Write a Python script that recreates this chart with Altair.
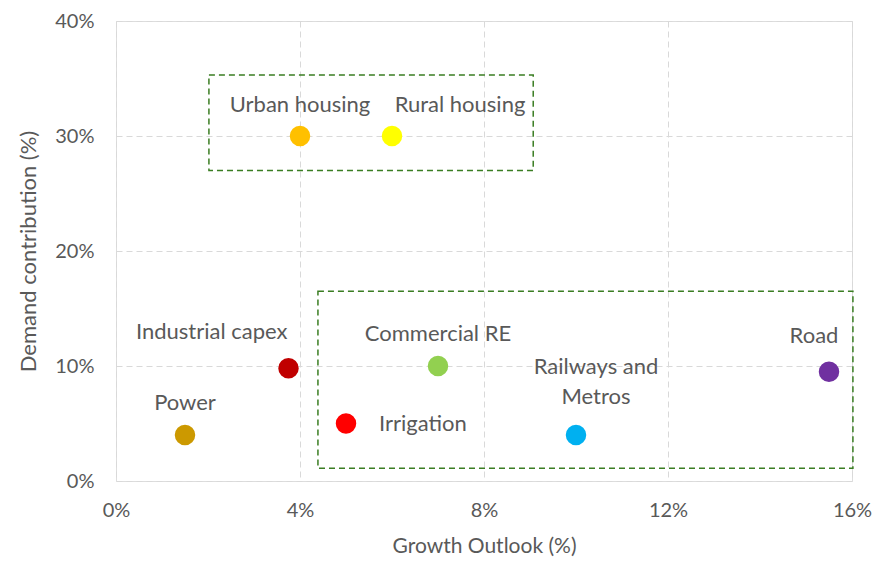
import altair as alt
import pandas as pd

# Data
names = ["Power", "Industrial capex", "Urban housing", "Rural housing",
         "Irrigation", "Commercial RE", "Railways and Metros", "Road"]
growth = [0.015, 0.0375, 0.04, 0.06, 0.05, 0.07, 0.10, 0.155]
demand = [0.04, 0.098, 0.30, 0.30, 0.05, 0.10, 0.04, 0.095]
colors = ["#CC9900", "#C00000", "#FFC000", "#FFFF00",
          "#FF0000", "#92D050", "#00B0F0", "#7030A0"]

# Highlight boxes (data coordinates)
box_x1 = [0.0202, 0.0439]
box_x2 = [0.0907, 0.1602]
box_y1 = [0.270, 0.011]
box_y2 = [0.353, 0.165]

x_ticks = [0, 0.04, 0.08, 0.12, 0.16]
y_ticks = [0, 0.1, 0.2, 0.3, 0.4]

FONT = "Lato"
GRAY = "#595959"

df = pd.DataFrame({"name": names, "growth": growth, "demand": demand, "color": colors})
boxes = pd.DataFrame({"x1": box_x1, "x2": box_x2, "y1": box_y1, "y2": box_y2})

xs = alt.Scale(domain=[0, 0.16], nice=False)
ys = alt.Scale(domain=[0, 0.4], nice=False)

x_axis = alt.Axis(values=x_ticks, format=".0%", title="Growth Outlook (%)",
                  grid=True, gridDash=[6, 4], gridColor="#D9D9D9",
                  domain=False, ticks=False, labelPadding=19, labelFlush=False,
                  labelFontSize=20, labelColor=GRAY, labelFont=FONT,
                  titleFontSize=21, titleColor=GRAY, titleFont=FONT,
                  titleFontWeight="normal", titlePadding=15)
y_axis = alt.Axis(values=y_ticks, format=".0%", title="Demand contribution (%)",
                  grid=True, gridDash=[6, 4], gridColor="#D9D9D9",
                  domain=False, ticks=False, labelPadding=22, labelFlush=False,
                  labelFontSize=20, labelColor=GRAY, labelFont=FONT,
                  titleFontSize=22, titleColor=GRAY, titleFont=FONT,
                  titleFontWeight="normal", titlePadding=14)

base = alt.Chart(df)

points = base.mark_circle(size=420, opacity=1).encode(
    x=alt.X("growth:Q", scale=xs, axis=x_axis),
    y=alt.Y("demand:Q", scale=ys, axis=y_axis),
    color=alt.Color("color:N", scale=None),
)

rects = alt.Chart(boxes).mark_rect(fill=None, stroke="#3A7D22", strokeWidth=1.5,
                                   strokeDash=[6, 4]).encode(
    x=alt.X("x1:Q", scale=xs), x2="x2:Q",
    y=alt.Y("y1:Q", scale=ys), y2="y2:Q",
)

# label placement: (align, dx, dy)
placements = {
    "Power": ("center", 0, -32),
    "Industrial capex": ("right", -1, -36),
    "Urban housing": ("center", 0, -31),
    "Rural housing": ("center", 68, -31),
    "Irrigation": ("left", 33, 0),
    "Commercial RE": ("center", 0, -32),
    "Railways and Metros": ("center", 20, -68),
    "Road": ("center", -15, -36),
}

layers = [rects, points]
for n, (al, dx, dy) in placements.items():
    sub = df[df["name"] == n].copy()
    if n == "Railways and Metros":
        sub["label"] = [["Railways and", "Metros"]]
    else:
        sub["label"] = sub["name"].apply(lambda s: [s])
    layers.append(
        alt.Chart(sub).mark_text(align=al, baseline="middle", dx=dx, dy=dy,
                                 fontSize=22, font=FONT, color=GRAY, lineHeight=30).encode(
            x=alt.X("growth:Q", scale=xs), y=alt.Y("demand:Q", scale=ys), text="label"
        )
    )

chart = alt.layer(*layers).properties(
    width=736, height=460,
    autosize=alt.AutoSizeParams(type="none"),
    padding={"left": 108, "top": 13, "right": 20, "bottom": 80},
).configure_view(stroke=None).configure(background="white")

chart.save("out.html", embed_options={"renderer": "svg", "actions": False})
